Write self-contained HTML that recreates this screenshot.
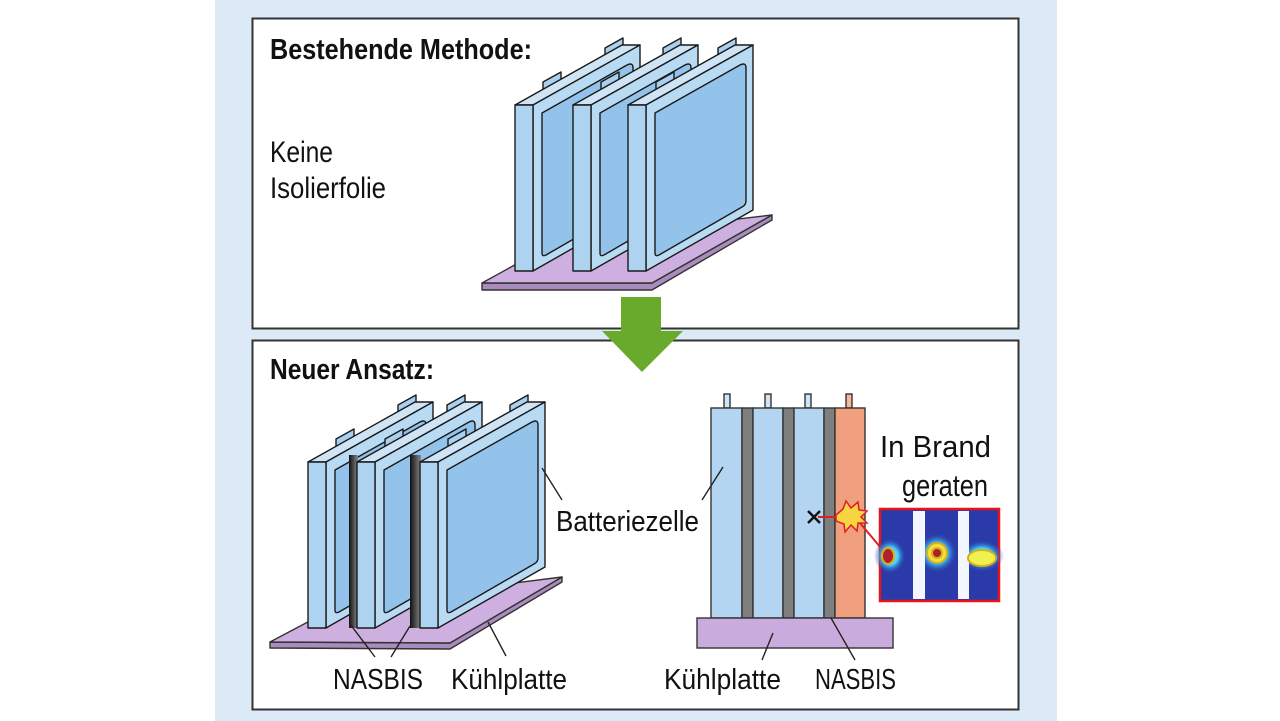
<!DOCTYPE html>
<html><head><meta charset="utf-8"><style>
html,body{margin:0;padding:0;background:#fff;}
svg{display:block;}
text{font-family:"Liberation Sans Narrow","Liberation Sans",sans-serif;fill:#111;}
</style></head><body>
<svg width="1280" height="721" viewBox="0 0 1280 721" xmlns="http://www.w3.org/2000/svg">
<defs>
<linearGradient id="nb" x1="0" x2="1" y1="0" y2="0"><stop offset="0" stop-color="#111"/><stop offset="1" stop-color="#888"/></linearGradient>
<radialGradient id="hot" cx="0.5" cy="0.5" r="0.5"><stop offset="0" stop-color="#ffe040"/><stop offset="0.5" stop-color="#40d0ff"/><stop offset="1" stop-color="#2a3aa8" stop-opacity="0"/></radialGradient>
<g id="cell" stroke="#1a1a1a" stroke-width="1.4" stroke-linejoin="round">
  <polygon points="28,-8 46,-18 46,-33 28,-23" fill="#a9d0ee"/>
  <polygon points="90,-42 108,-52 108,-67 90,-57" fill="#a9d0ee"/>
  <polygon points="0,0 18,0 125,-60 107,-60" fill="#cfe5f6"/>
  <polygon points="18,0 125,-60 125,105 18,166" fill="#b9daf3"/>
  <path d="M27,8 L112,-40 Q118,-43 118,-37 L118,96 Q118,100 114,102 L31,150 Q27,152 27,148 Z" fill="#93c3ea"/>
  <rect x="0" y="0" width="18" height="166" fill="#aed3f0"/>
</g>
</defs>
<rect x="215" y="0" width="842" height="721" fill="#dbeaf6"/>
<rect x="252.5" y="18.5" width="766" height="310" fill="#fff" stroke="#333" stroke-width="2"/>
<rect x="252.5" y="340.5" width="766" height="369" fill="#fff" stroke="#333" stroke-width="2"/>

<text x="270" y="59" font-size="29" font-weight="bold" textLength="262" lengthAdjust="spacingAndGlyphs">Bestehende Methode:</text>
<text x="270" y="162" font-size="30" textLength="63" lengthAdjust="spacingAndGlyphs">Keine</text>
<text x="270" y="198" font-size="30" textLength="116" lengthAdjust="spacingAndGlyphs">Isolierfolie</text>

<g stroke="#333" stroke-width="1.4" stroke-linejoin="round">
<polygon points="482,283 652,283 772,215 772,220 652,290 482,290" fill="#a98bbd"/>
<polygon points="482,283 560,240 772,215 652,283" fill="#cdb0e0"/>
</g>
<use href="#cell" x="515" y="105"/>
<use href="#cell" x="573" y="105"/>
<use href="#cell" x="628" y="105"/>

<polygon points="621,297 661,297 661,331 683,331 642,372 602,331 621,331" fill="#6aaa2a"/>

<text x="270" y="379" font-size="29" font-weight="bold" textLength="164" lengthAdjust="spacingAndGlyphs">Neuer Ansatz:</text>

<g stroke="#333" stroke-width="1.4" stroke-linejoin="round">
<polygon points="270,642 450,643 562,577 562,582 450,649 270,648" fill="#a98bbd"/>
<polygon points="270,642 340,605 562,577 450,643" fill="#cdb0e0"/>
</g>
<use href="#cell" x="308" y="462"/>
<rect x="349" y="455" width="9" height="173" fill="url(#nb)"/>
<use href="#cell" x="357" y="462"/>
<rect x="410" y="455" width="11" height="173" fill="url(#nb)"/>
<use href="#cell" x="420" y="462"/>

<g stroke="#222" stroke-width="1.4" fill="none">
<line x1="542" y1="468" x2="562" y2="500"/>
<line x1="350" y1="624" x2="375" y2="657"/>
<line x1="410" y1="626" x2="391" y2="657"/>
<line x1="488" y1="622" x2="506" y2="656"/>
</g>
<text x="333" y="689" font-size="29" textLength="90" lengthAdjust="spacingAndGlyphs">NASBIS</text>
<text x="451" y="689" font-size="29" textLength="116" lengthAdjust="spacingAndGlyphs">Kühlplatte</text>
<text x="556" y="531" font-size="29" textLength="143" lengthAdjust="spacingAndGlyphs">Batteriezelle</text>

<g stroke="#333" stroke-width="1.4">
<rect x="724" y="394" width="6" height="14" fill="#cfe5f6"/>
<rect x="765" y="394" width="6" height="14" fill="#cfe5f6"/>
<rect x="805" y="394" width="6" height="14" fill="#cfe5f6"/>
<rect x="846" y="394" width="6" height="14" fill="#f6b89a"/>
<rect x="711" y="408" width="31" height="210" fill="#b3d5f1"/>
<rect x="742" y="408" width="11" height="210" fill="#7f7f7f"/>
<rect x="753" y="408" width="30" height="210" fill="#b3d5f1"/>
<rect x="783" y="408" width="11" height="210" fill="#7f7f7f"/>
<rect x="794" y="408" width="30" height="210" fill="#b3d5f1"/>
<rect x="824" y="408" width="11" height="210" fill="#7f7f7f"/>
<rect x="835" y="408" width="30" height="210" fill="#f0a07e"/>
<rect x="697" y="618" width="196" height="30" fill="#c9abdd"/>
</g>
<g stroke="#222" stroke-width="1.4" fill="none">
<line x1="702" y1="500" x2="723" y2="467"/>
<line x1="773" y1="633" x2="762" y2="660"/>
<line x1="831" y1="618" x2="855" y2="660"/>
</g>
<text x="664" y="689" font-size="29" textLength="117" lengthAdjust="spacingAndGlyphs">Kühlplatte</text>
<text x="815" y="689" font-size="29" textLength="81" lengthAdjust="spacingAndGlyphs">NASBIS</text>
<text x="880" y="457" font-size="31" textLength="111" lengthAdjust="spacingAndGlyphs">In Brand</text>
<text x="902" y="496" font-size="31" textLength="86" lengthAdjust="spacingAndGlyphs">geraten</text>

<path d="M808,511 L820,523 M820,511 L808,523" stroke="#111" stroke-width="2.5"/>
<line x1="818" y1="517" x2="846" y2="517" stroke="#e02020" stroke-width="2"/>
<line x1="860" y1="523" x2="881" y2="548" stroke="#e02020" stroke-width="2"/>
<polygon points="836,515 843,509 846,501 851,508 858,502 859,510 867,511 861,517 867,523 858,523 857,531 851,525 845,532 844,524 836,521" fill="#f7d542" stroke="#e02020" stroke-width="1.5"/>

<rect x="880" y="509" width="119" height="92" fill="#2a3aa8" stroke="#e3141b" stroke-width="2.5"/>
<ellipse cx="890" cy="556" rx="16" ry="18" fill="url(#hot)"/>
<ellipse cx="937" cy="553" rx="20" ry="20" fill="url(#hot)"/>
<ellipse cx="982" cy="556" rx="22" ry="16" fill="url(#hot)"/>
<rect x="913" y="511" width="12" height="88" fill="#f4f6ff"/>
<rect x="958" y="511" width="11" height="88" fill="#f4f6ff"/>
<g stroke="#d4b020" stroke-width="2" fill="#b21e2a">
<ellipse cx="888" cy="556" rx="6" ry="8"/>
<ellipse cx="937" cy="553" rx="10" ry="10" fill="#f0e040"/>
<ellipse cx="937" cy="553" rx="5" ry="5"/>
<ellipse cx="982" cy="558" rx="14" ry="8" fill="#f0f050"/>
</g>
</svg>
</body></html>
